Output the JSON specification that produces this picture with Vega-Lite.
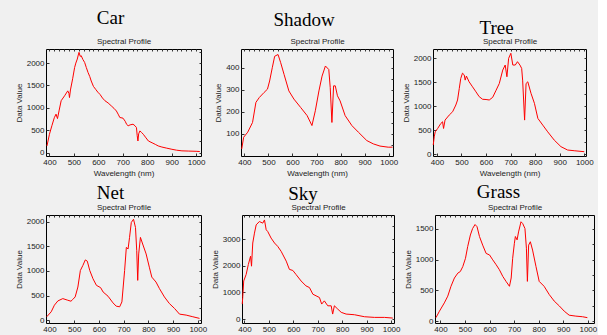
{
  "$schema": "https://vega.github.io/schema/vega-lite/v6.json",
  "padding": {"left": 14, "top": 8, "right": 0, "bottom": 0},
  "background": "#f0f0f0",
  "datasets": {
    "car": [{"w":390,"v":150},{"w":400,"v":410},{"w":410,"v":600},{"w":420,"v":780},{"w":427,"v":860},{"w":433,"v":760},{"w":440,"v":950},{"w":448,"v":1160},{"w":462,"v":1270},{"w":475,"v":1380},{"w":480,"v":1320},{"w":482,"v":1230},{"w":486,"v":1400},{"w":495,"v":1650},{"w":503,"v":1900},{"w":508,"v":2000},{"w":514,"v":2090},{"w":518,"v":2180},{"w":521,"v":2240},{"w":526,"v":2150},{"w":530,"v":2165},{"w":537,"v":2080},{"w":544,"v":2015},{"w":551,"v":1900},{"w":558,"v":1790},{"w":565,"v":1700},{"w":571,"v":1600},{"w":580,"v":1480},{"w":589,"v":1415},{"w":598,"v":1350},{"w":607,"v":1300},{"w":617,"v":1220},{"w":627,"v":1160},{"w":640,"v":1110},{"w":653,"v":1045},{"w":664,"v":990},{"w":674,"v":930},{"w":681,"v":860},{"w":688,"v":785},{"w":701,"v":770},{"w":710,"v":700},{"w":716,"v":630},{"w":722,"v":600},{"w":730,"v":620},{"w":742,"v":635},{"w":750,"v":600},{"w":756,"v":560},{"w":759,"v":380},{"w":762,"v":260},{"w":765,"v":420},{"w":770,"v":485},{"w":777,"v":450},{"w":784,"v":410},{"w":795,"v":330},{"w":805,"v":260},{"w":820,"v":220},{"w":833,"v":185},{"w":845,"v":150},{"w":860,"v":125},{"w":880,"v":100},{"w":901,"v":75},{"w":920,"v":55},{"w":942,"v":40},{"w":970,"v":35},{"w":1000,"v":30},{"w":1015,"v":25}],
    "shadow": [{"w":389,"v":32},{"w":397,"v":85},{"w":414,"v":108},{"w":434,"v":152},{"w":448,"v":243},{"w":462,"v":265},{"w":482,"v":288},{"w":496,"v":303},{"w":505,"v":340},{"w":516,"v":400},{"w":526,"v":452},{"w":540,"v":460},{"w":551,"v":423},{"w":565,"v":370},{"w":585,"v":295},{"w":606,"v":258},{"w":634,"v":220},{"w":661,"v":183},{"w":681,"v":138},{"w":695,"v":205},{"w":710,"v":295},{"w":723,"v":362},{"w":737,"v":408},{"w":751,"v":392},{"w":757,"v":310},{"w":764,"v":152},{"w":771,"v":318},{"w":778,"v":318},{"w":787,"v":273},{"w":798,"v":250},{"w":819,"v":183},{"w":847,"v":138},{"w":874,"v":108},{"w":909,"v":70},{"w":936,"v":55},{"w":964,"v":45},{"w":998,"v":40},{"w":1016,"v":40}],
    "tree": [{"w":385,"v":190},{"w":389,"v":360},{"w":393,"v":465},{"w":403,"v":535},{"w":416,"v":640},{"w":423,"v":675},{"w":427,"v":535},{"w":433,"v":710},{"w":450,"v":815},{"w":464,"v":885},{"w":477,"v":1025},{"w":484,"v":1130},{"w":491,"v":1370},{"w":497,"v":1580},{"w":504,"v":1690},{"w":511,"v":1655},{"w":515,"v":1545},{"w":520,"v":1630},{"w":531,"v":1510},{"w":545,"v":1405},{"w":559,"v":1300},{"w":572,"v":1200},{"w":586,"v":1145},{"w":600,"v":1140},{"w":613,"v":1130},{"w":627,"v":1185},{"w":641,"v":1335},{"w":654,"v":1475},{"w":668,"v":1755},{"w":678,"v":1860},{"w":685,"v":1615},{"w":692,"v":2000},{"w":701,"v":2105},{"w":709,"v":1860},{"w":719,"v":1860},{"w":728,"v":1930},{"w":738,"v":1860},{"w":745,"v":1790},{"w":749,"v":1545},{"w":753,"v":1130},{"w":757,"v":710},{"w":763,"v":1475},{"w":770,"v":1510},{"w":783,"v":1270},{"w":797,"v":1060},{"w":811,"v":745},{"w":831,"v":605},{"w":851,"v":465},{"w":878,"v":290},{"w":905,"v":155},{"w":932,"v":85},{"w":959,"v":70},{"w":1000,"v":50}],
    "net": [{"w":389,"v":67},{"w":407,"v":168},{"w":420,"v":303},{"w":434,"v":390},{"w":454,"v":437},{"w":474,"v":404},{"w":487,"v":384},{"w":494,"v":418},{"w":504,"v":471},{"w":515,"v":673},{"w":525,"v":1010},{"w":535,"v":1111},{"w":545,"v":1225},{"w":553,"v":1200},{"w":563,"v":1010},{"w":576,"v":842},{"w":590,"v":707},{"w":607,"v":660},{"w":617,"v":572},{"w":637,"v":485},{"w":657,"v":350},{"w":670,"v":283},{"w":684,"v":270},{"w":693,"v":370},{"w":704,"v":1010},{"w":711,"v":1480},{"w":718,"v":1448},{"w":724,"v":1684},{"w":731,"v":1987},{"w":740,"v":2054},{"w":748,"v":1886},{"w":753,"v":1414},{"w":757,"v":808},{"w":761,"v":1347},{"w":768,"v":1684},{"w":777,"v":1549},{"w":791,"v":1347},{"w":804,"v":1077},{"w":814,"v":875},{"w":831,"v":774},{"w":845,"v":640},{"w":865,"v":471},{"w":885,"v":337},{"w":906,"v":236},{"w":926,"v":121},{"w":953,"v":101},{"w":980,"v":67},{"w":1007,"v":34}],
    "sky": [{"w":391,"v":560},{"w":393,"v":805},{"w":397,"v":1425},{"w":407,"v":1670},{"w":416,"v":2045},{"w":425,"v":2355},{"w":429,"v":1980},{"w":434,"v":2850},{"w":441,"v":3220},{"w":448,"v":3530},{"w":461,"v":3655},{"w":475,"v":3595},{"w":482,"v":3715},{"w":489,"v":3345},{"w":495,"v":3285},{"w":509,"v":3035},{"w":523,"v":2850},{"w":536,"v":2725},{"w":550,"v":2540},{"w":571,"v":2170},{"w":584,"v":1860},{"w":598,"v":1820},{"w":611,"v":1670},{"w":632,"v":1425},{"w":652,"v":1240},{"w":666,"v":1180},{"w":680,"v":930},{"w":693,"v":870},{"w":707,"v":805},{"w":716,"v":560},{"w":727,"v":680},{"w":741,"v":495},{"w":755,"v":495},{"w":761,"v":185},{"w":768,"v":495},{"w":782,"v":370},{"w":796,"v":250},{"w":816,"v":185},{"w":850,"v":160},{"w":891,"v":85},{"w":932,"v":60},{"w":973,"v":60},{"w":1007,"v":35}],
    "grass": [{"w":382,"v":55},{"w":396,"v":160},{"w":416,"v":295},{"w":430,"v":405},{"w":443,"v":565},{"w":457,"v":700},{"w":471,"v":780},{"w":481,"v":805},{"w":491,"v":885},{"w":502,"v":1020},{"w":511,"v":1210},{"w":522,"v":1400},{"w":531,"v":1505},{"w":541,"v":1570},{"w":549,"v":1535},{"w":559,"v":1375},{"w":572,"v":1235},{"w":586,"v":1100},{"w":600,"v":1075},{"w":613,"v":995},{"w":627,"v":915},{"w":640,"v":835},{"w":654,"v":725},{"w":667,"v":645},{"w":681,"v":565},{"w":688,"v":700},{"w":694,"v":1020},{"w":701,"v":1265},{"w":705,"v":1375},{"w":712,"v":1320},{"w":718,"v":1450},{"w":728,"v":1615},{"w":735,"v":1585},{"w":744,"v":1505},{"w":750,"v":1185},{"w":754,"v":645},{"w":759,"v":1235},{"w":766,"v":1290},{"w":775,"v":1155},{"w":789,"v":885},{"w":802,"v":645},{"w":822,"v":565},{"w":843,"v":430},{"w":863,"v":325},{"w":884,"v":245},{"w":904,"v":160},{"w":924,"v":95},{"w":951,"v":80},{"w":978,"v":70},{"w":998,"v":55}]
  },
  "config": {
    "view": {"stroke": "#000", "strokeWidth": 1, "fill": "#f0f0f0"},
    "axis": {"domain": false, "grid": false, "format": "d", "labelFont": "Liberation Sans", "labelFontSize": 8, "labelColor": "#222", "titleFont": "Liberation Sans", "titleFontSize": 8, "titleFontWeight": "normal", "titleColor": "#222", "tickColor": "#333", "tickSize": -3, "labelPadding": 5, "titlePadding": 3},
    "title": {"font": "Liberation Serif", "fontSize": 19, "fontWeight": "normal", "color": "#000", "anchor": "middle", "offset": 4},
    "line": {"clip": true}
  },
  "vconcat": [
    {"hconcat": [
      {"width": 155, "height": 107, "title": {"text": "Car", "dx": -13, "offset": 10}, "data": {"name": "car"},
       "layer": [
        {"mark": {"type": "line", "color": "#ff0000", "strokeWidth": 1},
         "encoding": {"x": {"field": "w", "type": "quantitative", "scale": {"domain": [386, 1020], "nice": false, "zero": false}, "axis": {"orient": "bottom", "values": [400,500,600,700,800,900,1000], "title": "Wavelength (nm)"}},
                      "y": {"field": "v", "type": "quantitative", "scale": {"domain": [-75, 2315], "nice": false, "zero": false}, "axis": {"orient": "left", "values": [0,500,1000,1500,2000], "title": "Data Value"}}}},
        {"mark": {"type": "line", "opacity": 0},
         "encoding": {"x": {"field": "w", "type": "quantitative", "axis": {"orient": "top", "values": [400,420,440,460,480,500,520,540,560,580,600,620,640,660,680,700,720,740,760,780,800,820,840,860,880,900,920,940,960,980,1000], "labels": false, "tickSize": -2, "title": "Spectral Profile"}},
                      "y": {"field": "v", "type": "quantitative", "axis": {"orient": "right", "values": [0,250,500,750,1000,1250,1500,1750,2000,2250], "labels": false, "tickSize": -2, "title": null}}}}
       ]},
      {"width": 152, "height": 107, "title": {"text": "Shadow", "dx": -13, "offset": 8}, "data": {"name": "shadow"},
       "layer": [
        {"mark": {"type": "line", "color": "#ff0000", "strokeWidth": 1},
         "encoding": {"x": {"field": "w", "type": "quantitative", "scale": {"domain": [386, 1018], "nice": false, "zero": false}, "axis": {"orient": "bottom", "values": [400,500,600,700,800,900,1000], "title": "Wavelength (nm)"}},
                      "y": {"field": "v", "type": "quantitative", "scale": {"domain": [0, 485], "nice": false, "zero": false}, "axis": {"orient": "left", "values": [100,200,300,400], "title": "Data Value"}}}},
        {"mark": {"type": "line", "opacity": 0},
         "encoding": {"x": {"field": "w", "type": "quantitative", "axis": {"orient": "top", "values": [400,420,440,460,480,500,520,540,560,580,600,620,640,660,680,700,720,740,760,780,800,820,840,860,880,900,920,940,960,980,1000], "labels": false, "tickSize": -2, "title": "Spectral Profile"}},
                      "y": {"field": "v", "type": "quantitative", "axis": {"orient": "right", "values": [50,100,150,200,250,300,350,400,450], "labels": false, "tickSize": -2, "title": null}}}}
       ]},
      {"width": 153, "height": 107, "title": {"text": "Tree", "dx": -13, "offset": 0}, "data": {"name": "tree"},
       "layer": [
        {"mark": {"type": "line", "color": "#ff0000", "strokeWidth": 1},
         "encoding": {"x": {"field": "w", "type": "quantitative", "scale": {"domain": [384, 1007], "nice": false, "zero": false}, "axis": {"orient": "bottom", "values": [400,500,600,700,800,900,1000], "title": "Wavelength (nm)"}},
                      "y": {"field": "v", "type": "quantitative", "scale": {"domain": [-40, 2195], "nice": false, "zero": false}, "axis": {"orient": "left", "values": [0,500,1000,1500,2000], "title": "Data Value"}}}},
        {"mark": {"type": "line", "opacity": 0},
         "encoding": {"x": {"field": "w", "type": "quantitative", "axis": {"orient": "top", "values": [400,420,440,460,480,500,520,540,560,580,600,620,640,660,680,700,720,740,760,780,800,820,840,860,880,900,920,940,960,980,1000], "labels": false, "tickSize": -2, "title": "Spectral Profile"}},
                      "y": {"field": "v", "type": "quantitative", "axis": {"orient": "right", "values": [0,250,500,750,1000,1250,1500,1750,2000], "labels": false, "tickSize": -2, "title": null}}}}
       ]}
    ], "spacing": 40, "bounds": "flush"},
    {"hconcat": [
      {"width": 155, "height": 108, "title": {"text": "Net", "dx": -13, "offset": 1}, "data": {"name": "net"},
       "layer": [
        {"mark": {"type": "line", "color": "#ff0000", "strokeWidth": 1},
         "encoding": {"x": {"field": "w", "type": "quantitative", "scale": {"domain": [386, 1013], "nice": false, "zero": false}, "axis": {"orient": "bottom", "values": [400,500,600,700,800,900,1000], "title": "Wavelength (nm)"}},
                      "y": {"field": "v", "type": "quantitative", "scale": {"domain": [-60, 2140], "nice": false, "zero": false}, "axis": {"orient": "left", "values": [0,500,1000,1500,2000], "title": "Data Value"}}}},
        {"mark": {"type": "line", "opacity": 0},
         "encoding": {"x": {"field": "w", "type": "quantitative", "axis": {"orient": "top", "values": [400,420,440,460,480,500,520,540,560,580,600,620,640,660,680,700,720,740,760,780,800,820,840,860,880,900,920,940,960,980,1000], "labels": false, "tickSize": -2, "title": "Spectral Profile"}},
                      "y": {"field": "v", "type": "quantitative", "axis": {"orient": "right", "values": [0,250,500,750,1000,1250,1500,1750,2000], "labels": false, "tickSize": -2, "title": null}}}}
       ]},
      {"width": 152, "height": 108, "title": {"text": "Sky", "dx": -15, "offset": 0}, "data": {"name": "sky"},
       "layer": [
        {"mark": {"type": "line", "color": "#ff0000", "strokeWidth": 1},
         "encoding": {"x": {"field": "w", "type": "quantitative", "scale": {"domain": [390, 1012], "nice": false, "zero": false}, "axis": {"orient": "bottom", "values": [400,500,600,700,800,900,1000], "title": "Wavelength (nm)"}},
                      "y": {"field": "v", "type": "quantitative", "scale": {"domain": [-150, 3900], "nice": false, "zero": false}, "axis": {"orient": "left", "values": [0,1000,2000,3000], "title": "Data Value"}}}},
        {"mark": {"type": "line", "opacity": 0},
         "encoding": {"x": {"field": "w", "type": "quantitative", "axis": {"orient": "top", "values": [400,420,440,460,480,500,520,540,560,580,600,620,640,660,680,700,720,740,760,780,800,820,840,860,880,900,920,940,960,980,1000], "labels": false, "tickSize": -2, "title": "Spectral Profile"}},
                      "y": {"field": "v", "type": "quantitative", "axis": {"orient": "right", "values": [0,500,1000,1500,2000,2500,3000,3500], "labels": false, "tickSize": -2, "title": null}}}}
       ]},
      {"width": 159, "height": 108, "title": {"text": "Grass", "dx": -16, "offset": 2}, "data": {"name": "grass"},
       "layer": [
        {"mark": {"type": "line", "color": "#ff0000", "strokeWidth": 1},
         "encoding": {"x": {"field": "w", "type": "quantitative", "scale": {"domain": [378, 1025], "nice": false, "zero": false}, "axis": {"orient": "bottom", "values": [400,500,600,700,800,900,1000], "title": "Wavelength (nm)"}},
                      "y": {"field": "v", "type": "quantitative", "scale": {"domain": [-32, 1725], "nice": false, "zero": false}, "axis": {"orient": "left", "values": [0,500,1000,1500], "title": "Data Value"}}}},
        {"mark": {"type": "line", "opacity": 0},
         "encoding": {"x": {"field": "w", "type": "quantitative", "axis": {"orient": "top", "values": [400,420,440,460,480,500,520,540,560,580,600,620,640,660,680,700,720,740,760,780,800,820,840,860,880,900,920,940,960,980,1000], "labels": false, "tickSize": -2, "title": "Spectral Profile"}},
                      "y": {"field": "v", "type": "quantitative", "axis": {"orient": "right", "values": [0,250,500,750,1000,1250,1500], "labels": false, "tickSize": -2, "title": null}}}}
       ]}
    ], "spacing": 41, "bounds": "flush"}
  ],
  "spacing": 4
}
